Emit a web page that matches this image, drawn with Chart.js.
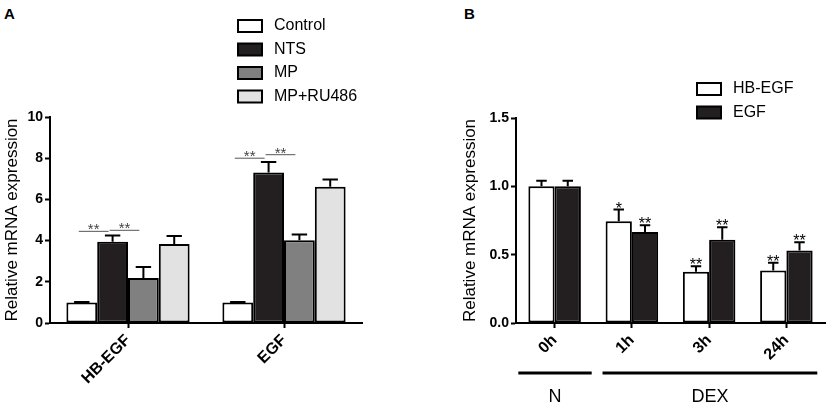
<!DOCTYPE html>
<html>
<head>
<meta charset="utf-8">
<script src="https://cdn.jsdelivr.net/npm/chart.js@4.4.0/dist/chart.umd.min.js"></script>
<style>
  body { margin: 0; background: #fff; width: 829px; height: 407px; overflow: hidden; position: relative; font-family: "Liberation Sans", Arial, sans-serif; }
  canvas { position: absolute; top: 0; }
  .tag { position: absolute; font-weight: bold; font-size: 15px; }
</style>
</head>
<body>
<div class="tag" style="left:4px;top:5px">A</div>
<div class="tag" style="left:464px;top:5px">B</div>
<canvas id="chartA" width="415" height="407" style="left:0"></canvas>
<canvas id="chartB" width="409" height="407" style="left:420px"></canvas>
<script>
// panel A data
const genesA = ['HB-EGF', 'EGF']
const seriesA = ['Control', 'NTS', 'MP', 'MP+RU486']
const controlVals = [1.0, 1.0]
const controlErr = [0.02, 0.02]
const ntsVals = [3.95, 7.3]
const ntsErr = [0.3, 0.52]
const mpVals = [2.18, 4.02]
const mpErr = [0.54, 0.28]
const ru486Vals = [3.84, 6.62]
const ru486Err = [0.38, 0.35]
// significance brackets in A
const sigCat = [0, 0, 1, 1]
const sigFrom = [0, 1, 0, 1]
const sigTo = [1, 2, 1, 2]
const sigY = [4.45, 4.5, 8.0, 8.17]

// panel B data
const timeLabels = ['0h', '1h', '3h', '24h']
const seriesB = ['HB-EGF', 'EGF']
const hbVals = [1.0, 0.745, 0.375, 0.385]
const hbErr = [0.04, 0.085, 0.04, 0.055]
const egfVals = [1.0, 0.665, 0.61, 0.53]
const egfErr = [0.04, 0.05, 0.09, 0.06]
const hbStars = ['', '*', '**', '**']
const egfStars = ['', '**', '**', '**']
// treatment groups under the time axis, in category units
const groupNames = ['N', 'DEX']
const groupFrom = [-0.47, 0.62]
const groupTo = [0.48, 3.4]

const FONT = "'Liberation Sans', Arial, sans-serif"
Chart.defaults.font.family = FONT
Chart.defaults.color = '#000'

// error bars (upward only) + stars above them
const errorBars = {
    id: 'errorBars',
    afterDatasetsDraw(chart, args, opts) {
        const ctx = chart.ctx
        const y = chart.scales.y
        ctx.save()
        ctx.strokeStyle = '#000'
        ctx.lineWidth = 2
        chart.data.datasets.forEach((ds, i) => {
            const meta = chart.getDatasetMeta(i)
            meta.data.forEach((bar, j) => {
                const top = y.getPixelForValue(ds.data[j] + ds.err[j])
                const half = bar.width * opts.cap
                ctx.beginPath()
                ctx.moveTo(bar.x, bar.y)
                ctx.lineTo(bar.x, top)
                ctx.moveTo(bar.x - half, top)
                ctx.lineTo(bar.x + half, top)
                ctx.stroke()
                if (ds.stars && ds.stars[j]) {
                    ctx.fillStyle = '#000'
                    ctx.font = '16px ' + FONT
                    ctx.textAlign = 'center'
                    ctx.textBaseline = 'alphabetic'
                    ctx.fillText(ds.stars[j], bar.x, top + 4)
                }
            })
        })
        ctx.restore()
    }
}

// legend drawn as a column of boxes
const boxLegend = {
    id: 'boxLegend',
    afterDraw(chart, args, opts) {
        const ctx = chart.ctx
        ctx.save()
        chart.data.datasets.forEach((ds, i) => {
            const yy = opts.y + i * opts.step
            ctx.fillStyle = ds.backgroundColor
            ctx.fillRect(opts.x, yy, 24, 12)
            ctx.strokeStyle = '#000'
            ctx.lineWidth = 2
            ctx.strokeRect(opts.x, yy, 24, 12)
            ctx.fillStyle = '#000'
            ctx.font = '16px ' + FONT
            ctx.textAlign = 'left'
            ctx.textBaseline = 'middle'
            ctx.fillText(ds.label, opts.x + 36, yy + 6)
        })
        ctx.restore()
    }
}

const sigLines = {
    id: 'sigLines',
    afterDatasetsDraw(chart) {
        const ctx = chart.ctx
        const y = chart.scales.y
        ctx.save()
        for (let k = 0; k < sigY.length; k++) {
            const a = chart.getDatasetMeta(sigFrom[k]).data[sigCat[k]]
            const b = chart.getDatasetMeta(sigTo[k]).data[sigCat[k]]
            const x1 = a.x - 3, x2 = b.x - 4
            const yy = y.getPixelForValue(sigY[k])
            ctx.strokeStyle = '#555'
            ctx.lineWidth = 1
            ctx.beginPath()
            ctx.moveTo(x1, yy)
            ctx.lineTo(x2, yy)
            ctx.stroke()
            ctx.fillStyle = '#444'
            ctx.font = '15px ' + FONT
            ctx.textAlign = 'center'
            ctx.textBaseline = 'alphabetic'
            ctx.fillText('**', (x1 + x2) / 2, yy + 3)
        }
        ctx.restore()
    }
}

const groupBars = {
    id: 'groupBars',
    afterDraw(chart) {
        const ctx = chart.ctx
        const x = chart.scales.x
        const x0 = x.getPixelForValue(0)
        const w = x.getPixelForValue(1) - x0
        ctx.save()
        for (let g = 0; g < groupNames.length; g++) {
            const left = x0 + groupFrom[g] * w
            const right = x0 + groupTo[g] * w
            ctx.strokeStyle = '#000'
            ctx.lineWidth = 3
            ctx.beginPath()
            ctx.moveTo(left, 373)
            ctx.lineTo(right, 373)
            ctx.stroke()
            ctx.fillStyle = '#000'
            ctx.font = '18px ' + FONT
            ctx.textAlign = 'center'
            ctx.textBaseline = 'middle'
            ctx.fillText(groupNames[g], (left + right) / 2, 397)
        }
        ctx.restore()
    }
}

function axes(yMax, step, yWidth, fmt) {
    return {
        x: {
            grid: { display: true, drawOnChartArea: false, offset: false, tickLength: 5, tickWidth: 2, tickColor: '#000' },
            border: { color: '#000', width: 2 },
            ticks: { font: { size: 16, weight: 'bold' }, minRotation: 45, maxRotation: 45, autoSkip: false, padding: 3 },
            afterFit(s) { s.height = 84 }
        },
        y: {
            min: 0, max: yMax,
            grid: { display: true, drawOnChartArea: false, tickLength: 5, tickWidth: 2, tickColor: '#000' },
            border: { color: '#000', width: 2 },
            ticks: { stepSize: step, font: { size: 14, weight: 'bold' }, padding: 2, callback: fmt },
            title: { display: true, text: 'Relative mRNA expression', font: { size: 17 }, padding: 0 },
            afterFit(s) { s.width = yWidth }
        }
    }
}

const barStyle = { borderColor: '#000', borderWidth: 2, borderSkipped: false }

new Chart('chartA', {
    type: 'bar',
    data: {
        labels: genesA,
        datasets: [
            { label: seriesA[0], data: controlVals, err: controlErr, backgroundColor: '#ffffff', ...barStyle },
            { label: seriesA[1], data: ntsVals, err: ntsErr, backgroundColor: '#231f20', ...barStyle },
            { label: seriesA[2], data: mpVals, err: mpErr, backgroundColor: '#808080', ...barStyle },
            { label: seriesA[3], data: ru486Vals, err: ru486Err, backgroundColor: '#e2e2e2', ...barStyle }
        ]
    },
    options: {
        responsive: false,
        animation: false,
        categoryPercentage: 0.79,
        barPercentage: 1,
        layout: { padding: { left: 2, top: 117, right: 53, bottom: 0 } },
        plugins: {
            legend: { display: false }, tooltip: { enabled: false },
            boxLegend: { x: 238, y: 20, step: 23.5 },
            errorBars: { cap: 0.25 }
        },
        scales: axes(10, 2, 48, v => v)
    },
    plugins: [errorBars, sigLines, boxLegend]
})

new Chart('chartB', {
    type: 'bar',
    data: {
        labels: timeLabels,
        datasets: [
            { label: seriesB[0], data: hbVals, err: hbErr, stars: hbStars, backgroundColor: '#ffffff', ...barStyle },
            { label: seriesB[1], data: egfVals, err: egfErr, stars: egfStars, backgroundColor: '#231f20', ...barStyle }
        ]
    },
    options: {
        responsive: false,
        animation: false,
        categoryPercentage: 0.68,
        barPercentage: 1,
        layout: { padding: { left: 40, top: 118, right: 4, bottom: 0 } },
        plugins: {
            legend: { display: false }, tooltip: { enabled: false },
            boxLegend: { x: 277, y: 83, step: 23.5 },
            errorBars: { cap: 0.2 }
        },
        scales: axes(1.5, 0.5, 56, v => Number(v).toFixed(1))
    },
    plugins: [errorBars, boxLegend, groupBars]
})
</script>
</body>
</html>
